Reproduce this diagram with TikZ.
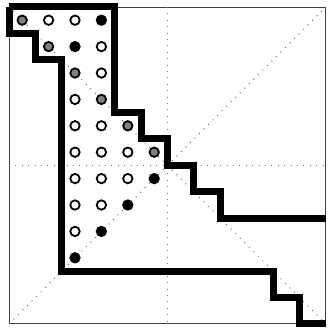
\documentclass[tikz,border=0pt]{standalone}
\tikzset{
  frameline/.style={line width=0.8pt, draw=black!75},
  guide/.style={line width=1pt, draw=black!55, dash pattern=on 1pt off 5.4pt},
  band/.style={line width=7pt, draw=black, line join=miter, line cap=butt},
  dotbase/.style={circle, minimum size=9.4pt, inner sep=0pt, line width=1.8pt, draw=black},
  wdot/.style={dotbase, fill=white},
  gdot/.style={dotbase, fill=black!50},
  bdot/.style={dotbase, fill=black},
}
\begin{document}
\begin{tikzpicture}
\useasboundingbox (0pt,0pt) rectangle (327pt,-328pt);
\begin{scope}[shift={(9pt,-7pt)}, x=26.4pt, y=-26.4pt]
  % frame and guide lines
  \draw[frameline] (0,0) rectangle (12,12);
  \draw[guide] (6,0) -- (6,12);
  \draw[guide] (0,6) -- (12,6);
  \draw[guide] (0,0) -- (12,12);
  \draw[guide] (0,12) -- (12,0);
  % upper staircase boundary
  \draw[band] (0,0) -- (4,0) -- (4,4) -- (5,4) -- (5,5) -- (6,5) -- (6,6)
    -- (7,6) -- (7,7) -- (8,7) -- (8,8) -- (12,8);
  % lower staircase boundary
  \draw[band] (0,0) -- (0,1) -- (1,1) -- (1,2) -- (2,2) -- (2,10) -- (10,10)
    -- (10,11) -- (11,11) -- (11,12) -- (12,12);
  % dots: row 0
  \node[gdot] (d0-0) at (0.5,0.5) {};
  \node[wdot] (d0-1) at (1.5,0.5) {};
  \node[wdot] (d0-2) at (2.5,0.5) {};
  \node[bdot] (d0-3) at (3.5,0.5) {};
  % row 1
  \node[gdot] (d1-1) at (1.5,1.5) {};
  \node[bdot] (d1-2) at (2.5,1.5) {};
  \node[wdot] (d1-3) at (3.5,1.5) {};
  % row 2
  \node[gdot] (d2-2) at (2.5,2.5) {};
  \node[wdot] (d2-3) at (3.5,2.5) {};
  % row 3
  \node[wdot] (d3-2) at (2.5,3.5) {};
  \node[gdot] (d3-3) at (3.5,3.5) {};
  % row 4
  \node[wdot] (d4-2) at (2.5,4.5) {};
  \node[wdot] (d4-3) at (3.5,4.5) {};
  \node[gdot] (d4-4) at (4.5,4.5) {};
  % row 5
  \node[wdot] (d5-2) at (2.5,5.5) {};
  \node[wdot] (d5-3) at (3.5,5.5) {};
  \node[wdot] (d5-4) at (4.5,5.5) {};
  \node[gdot] (d5-5) at (5.5,5.5) {};
  % row 6
  \node[wdot] (d6-2) at (2.5,6.5) {};
  \node[wdot] (d6-3) at (3.5,6.5) {};
  \node[wdot] (d6-4) at (4.5,6.5) {};
  \node[bdot] (d6-5) at (5.5,6.5) {};
  % row 7
  \node[wdot] (d7-2) at (2.5,7.5) {};
  \node[wdot] (d7-3) at (3.5,7.5) {};
  \node[bdot] (d7-4) at (4.5,7.5) {};
  % row 8
  \node[wdot] (d8-2) at (2.5,8.5) {};
  \node[bdot] (d8-3) at (3.5,8.5) {};
  % row 9
  \node[bdot] (d9-2) at (2.5,9.5) {};
\end{scope}
\end{tikzpicture}
\end{document}
